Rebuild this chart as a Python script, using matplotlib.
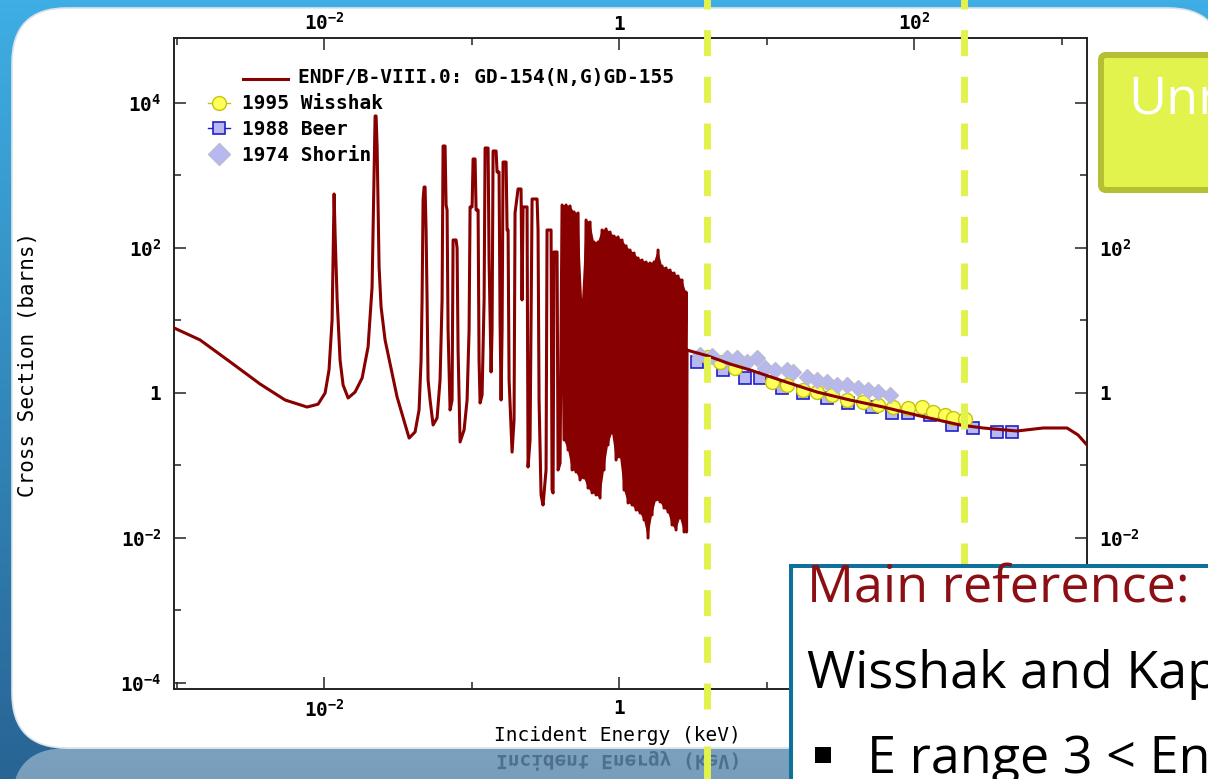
import numpy as np
import matplotlib
matplotlib.use('Agg')
import matplotlib.pyplot as plt
from matplotlib.patches import FancyBboxPatch, Rectangle, PathPatch
from matplotlib.textpath import TextPath
from matplotlib.font_manager import FontProperties
from matplotlib.transforms import Affine2D
from matplotlib.ticker import NullFormatter, NullLocator

plt.rcParams['font.family'] = ['DejaVu Sans Mono', 'DejaVu Sans']
plt.rcParams['font.weight'] = 'bold'
plt.rcParams['mathtext.fontset'] = 'custom'
plt.rcParams['mathtext.rm'] = 'DejaVu Sans Mono:bold'
plt.rcParams['mathtext.it'] = 'DejaVu Sans Mono:bold'
plt.rcParams['mathtext.bf'] = 'DejaVu Sans Mono:bold'
plt.rcParams['lines.scale_dashes'] = False

# ENDF/B-VIII.0 Gd-154(n,g), energies in keV, cross sections in barns
# thermal part and first two resonances
endf_E_low = [9.6e-4, 1.44e-3, 2.31e-3, 3.68e-3, 5.44e-3, 7.67e-3, 9.1e-3, 0.01016, 0.0108,
              0.01133, 0.01169, 0.01188, 0.01226, 0.01283, 0.01345, 0.01455, 0.01622, 0.01811,
              0.01987, 0.02115, 0.02149, 0.02217, 0.02252, 0.02288, 0.02360, 0.02434, 0.02591,
              0.03125, 0.03771]
endf_xs_low = [7.9, 5.4, 2.68, 1.33, 0.80, 0.64, 0.70, 1.0, 2.08,
               10.2, 556, 151, 19.2, 2.85, 1.29, 0.853, 1.03, 1.61,
               4.31, 29.0, 189, 6620, 6620, 2472, 54.7, 15.4, 5.38,
               0.881, 0.239]

# resolved resonances up to ~0.4 keV
endf_E_mid = [0.04139, 0.04405, 0.04546, 0.04617, 0.04690, 0.04764, 0.04838, 0.04914, 0.04992,
              0.05070, 0.05231, 0.05483, 0.05836, 0.06114, 0.06310, 0.06409, 0.06612, 0.06716,
              0.06822, 0.06929, 0.07149, 0.07375, 0.07491, 0.07851, 0.07975, 0.08100, 0.08356,
              0.08896, 0.09322, 0.09618, 0.09768, 0.1008, 0.1024, 0.1056, 0.1073, 0.1107,
              0.1124, 0.1142, 0.1178, 0.1216, 0.1235, 0.1294, 0.1314, 0.1356, 0.1377,
              0.1399, 0.1466, 0.1489, 0.1536, 0.1560, 0.1585, 0.1610, 0.1635, 0.1714,
              0.1741, 0.1768, 0.1796, 0.1882, 0.1941, 0.1971, 0.2066, 0.2165, 0.2199,
              0.2234, 0.2378, 0.2415, 0.2492, 0.2572, 0.2780, 0.2823, 0.2868, 0.2959,
              0.3052, 0.3199, 0.3249, 0.3459, 0.3514, 0.3569, 0.3625, 0.3799, 0.3859, 0.3981]
endf_xs_mid = [0.290, 0.583, 2.85, 19.2, 459, 694, 694, 177, 19.2,
               1.51, 0.80, 0.362, 0.452, 1.51, 19.2, 2553, 2553, 392,
               334, 7.39, 0.583, 0.80, 129, 129, 100, 3.92, 0.211,
               0.309, 0.80, 7.39, 368, 368, 1690, 1690, 334, 334,
               2.85, 0.728, 0.938, 19.2, 2395, 2395, 68.3, 1.95, 7.39,
               2178, 2178, 1117, 1117, 10.2, 0.80, 7.39, 1535, 1535,
               177, 177, 1.51, 0.153, 0.425, 304, 652, 652, 19.2,
               368, 368, 0.0953, 0.225, 474, 474, 177, 0.80, 0.0392,
               0.0285, 0.0867, 177, 177, 0.0459, 0.0418, 88.1, 88.1, 0.0867, 0.108]

# dense resonance band: tops and bottoms of the spikes
dense_E_peak = [0.4108, 0.4372, 0.4654, 0.4953, 0.5272, 0.5613, 0.5974, 0.6359, 0.6768, 0.7204,
                0.7668, 0.8163, 0.8689, 0.9250, 0.9845, 1.048, 1.116, 1.187, 1.264, 1.345,
                1.432, 1.524, 1.623, 1.727, 1.838, 1.956, 2.083, 2.217, 2.360, 2.512, 2.674, 2.846]
dense_xs_peak = [392, 392, 380, 314, 304, 19.2, 243, 228, 121, 121,
                 177, 183, 166, 146, 142, 129, 107, 93.8, 85.3, 72.8,
                 68.3, 64.1, 62.1, 64.1, 93.8, 56.5, 53.0, 49.7, 45.2, 41.1, 36.2, 24.7]
dense_E_valley = [0.4238, 0.4511, 0.4802, 0.5110, 0.5439, 0.5791, 0.6163, 0.6561, 0.6983, 0.7432,
                  0.7911, 0.8422, 0.8964, 0.9543, 1.0157, 1.081, 1.151, 1.225, 1.304, 1.388,
                  1.477, 1.572, 1.674, 1.782, 1.897, 2.018, 2.149, 2.287, 2.435, 2.592, 2.759, 2.868]
dense_xs_valley = [0.225, 0.1636, 0.0867, 0.0813, 0.0631, 0.0672, 0.0489, 0.0418, 0.0392, 0.0356,
                   0.0867, 0.1917, 0.2807, 0.119, 0.131, 0.0459, 0.0304, 0.0285, 0.0243, 0.0221,
                   0.0177, 0.0100, 0.0208, 0.0334, 0.0314, 0.0259, 0.0228, 0.0151, 0.0129, 0.0189,
                   0.0121, 0.0121]

# unresolved / fast region
endf_E_high = [2.89, 3.03, 4.01, 5.66, 7.73, 12.35, 22.0, 36.8, 61.7, 109.9, 205, 294, 499,
               750, 1090, 1294, 1489]
endf_xs_high = [3.92, 3.80, 3.24, 2.51, 2.08, 1.51, 1.03, 0.80, 0.641, 0.482, 0.362, 0.329,
                0.299, 0.329, 0.329, 0.264, 0.192]

# EXFOR measurements
wisshak_E = [4.01, 4.84, 6.11, 10.9, 13.8, 17.7, 22.0, 27.8, 35.1, 45.1, 57.0, 72.1, 91.0,
             113, 135, 162, 184, 222]
wisshak_xs = [3.14, 2.68, 2.21, 1.42, 1.29, 1.10, 1.03, 0.938, 0.80, 0.751, 0.683, 0.641,
              0.621, 0.641, 0.547, 0.497, 0.452, 0.438]
beer_E = [3.38, 5.07, 7.15, 9.03, 12.7, 17.7, 25.7, 35.7, 51.9, 70.9, 91.0, 128, 181, 251, 365, 462]
beer_xs = [2.68, 2.08, 1.61, 1.61, 1.17, 1.0, 0.853, 0.728, 0.641, 0.530, 0.530, 0.497,
           0.362, 0.329, 0.290, 0.290]
shorin_E = [3.54, 4.27, 5.40, 6.31, 7.38, 8.62, 9.77, 11.4, 13.8, 15.1, 18.8, 22.0, 25.7,
            30.1, 35.1, 41.7, 48.8, 57.0, 68.8]
shorin_xs = [3.34, 3.24, 3.04, 3.04, 2.68, 3.04, 2.21, 2.08, 2.08, 1.95, 1.66, 1.51, 1.42,
             1.29, 1.29, 1.17, 1.10, 1.03, 0.938]

# Wisshak energy window
region_edges = [3.95, 218]

x_major = [1e-2, 1, 1e2]
x_major_labels = ['$10^{-2}$', '1', '$10^{2}$']
x_minor = [1e-3, 1e-1, 10, 1e3]
y_major = [1e-4, 1e-2, 1, 1e2, 1e4]
y_major_labels = ['$10^{-4}$', '$10^{-2}$', '1', '$10^{2}$', '$10^{4}$']
y_minor = [1e-3, 1e-1, 10, 1e3]
y_right = [1e-2, 1, 1e2]
y_right_labels = ['$10^{-2}$', '1', '$10^{2}$']

dense_E = np.column_stack([dense_E_peak, dense_E_valley]).ravel()
dense_xs = np.column_stack([dense_xs_peak, dense_xs_valley]).ravel()
endf_E = np.concatenate([endf_E_low, endf_E_mid, dense_E, endf_E_high])
endf_xs = np.concatenate([endf_xs_low, endf_xs_mid, dense_xs, endf_xs_high])

W, H = 1208, 779
fig = plt.figure(figsize=(W / 100, H / 100), dpi=100)

# slide background
bg = fig.add_axes([0, 0, 1, 1], zorder=0)
bg.set_xlim(0, W)
bg.set_ylim(H, 0)
bg.axis('off')
top_c = np.array([62, 174, 228]) / 255
bot_c = np.array([40, 100, 148]) / 255
g = np.linspace(0, 1, 256)[:, None, None]
bg.imshow(top_c + g * (bot_c - top_c), extent=(0, W, H, 0), aspect='auto', zorder=0)
bg.add_patch(FancyBboxPatch((12, 8), 1211, 740, boxstyle='round,pad=0,rounding_size=55',
                            fc='white', ec='#dde4e9', lw=1.2, zorder=1))
bg.add_patch(FancyBboxPatch((12, 748), 1211, 740, boxstyle='round,pad=0,rounding_size=55',
                            fc='white', ec='none', alpha=0.38, zorder=1))

# chart
ax = fig.add_axes([174 / W, 1 - 689 / H, 913 / W, 651 / H], zorder=2)
ax.set_facecolor('none')
ax.set_xscale('log')
ax.set_yscale('log')

red = '#880000'
ax.plot(beer_E, beer_xs, 's', ms=9, mfc='#b8b8f4', mec='#2020c8', mew=1.2, zorder=3)
ax.plot(wisshak_E, wisshak_xs, 'o', ms=10, mfc='#ffff5a', mec='#c4c40c', mew=1, zorder=4)
ax.plot(shorin_E, shorin_xs, 'D', ms=8.5, mfc='#b8b8f0', mec='#bcbcd0', mew=1, zorder=5)
ax.fill(np.concatenate([dense_E_peak, dense_E_valley[::-1]]),
        np.concatenate([dense_xs_peak, dense_xs_valley[::-1]]), color=red, lw=0, zorder=6)
ax.plot(endf_E, endf_xs, color=red, lw=2.2, zorder=6)

for e in region_edges:
    ax.axvline(e, ymin=-0.0304, ymax=1.06, color='#e2f24c', lw=5,
               ls=(0, (18.7, 14.9)), clip_on=False, zorder=7)

ax.set_xticks(x_major, x_major_labels)
ax.set_xticks(x_minor, minor=True)
ax.set_yticks(y_major, y_major_labels)
ax.set_yticks(y_minor, minor=True)
ax.xaxis.set_minor_formatter(NullFormatter())
ax.yaxis.set_minor_formatter(NullFormatter())
ax.set_xlim(9.6e-4, 1489)
ax.set_ylim(8.26e-5, 7.88e4)
ax.tick_params(which='both', direction='in', top=True, right=True, labeltop=False,
               labelright=False, width=1.1, color='#222222', labelsize=14)
ax.tick_params(which='major', length=8.6)
ax.tick_params(which='minor', length=5)
ax.tick_params(axis='x', which='major', pad=7)
ax.tick_params(axis='y', which='major', pad=9)
for s in ax.spines.values():
    s.set_linewidth(1.4)
    s.set_color('#222222')

# labels on the top and right edges
secx = ax.secondary_xaxis('top')
secx.set_xticks(x_major, x_major_labels)
secx.xaxis.set_minor_locator(NullLocator())
secx.tick_params(length=0, pad=3, labelsize=14)
secx.spines['top'].set_visible(False)
secy = ax.secondary_yaxis('right')
secy.set_yticks(y_right, y_right_labels)
secy.yaxis.set_minor_locator(NullLocator())
secy.tick_params(length=0, pad=8.6, labelsize=14)
secy.spines['right'].set_visible(False)

ax.set_xlabel('Incident Energy (keV)', fontsize=14)
ax.xaxis.set_label_coords(0.486, -0.0568)
ax.set_ylabel('Cross Section (barns)', fontsize=15)
ax.yaxis.set_label_coords(-0.149, 0.498)

# overlay: legend, slide boxes and text
deco = fig.add_axes([0, 0, 1, 1], zorder=3)
deco.set_xlim(0, W)
deco.set_ylim(H, 0)
deco.axis('off')

leg = dict(fontsize=14, fontweight='bold', color='black', va='baseline')
deco.plot([243, 288], [79, 79], color=red, lw=2.2)
deco.text(298, 83, 'ENDF/B-VIII.0: GD-154(N,G)GD-155', **leg)
deco.plot([208, 230], [103, 103], color='#c4c40c', lw=1)
deco.plot(219, 103, 'o', ms=10, mfc='#ffff5a', mec='#c4c40c', mew=1)
deco.text(242, 109, '1995 Wisshak', **leg)
deco.plot([208, 230], [128, 128], color='#2020c8', lw=1)
deco.plot(219, 128, 's', ms=9, mfc='#b8b8f4', mec='#2020c8', mew=1.2)
deco.text(242, 135, '1988 Beer', **leg)
deco.plot(219, 154, 'D', ms=11, mfc='#b8b8f0', mec='#bcbcd0', mew=1)
deco.text(242, 161, '1974 Shorin', **leg)

# reflection strip under the slide
xl = ax.transData.transform((region_edges[0], 1))[0]
fp = FontProperties(family='DejaVu Sans Mono', weight='bold')
tp = TextPath((0, 0), 'Incident Energy (keV)', size=19.4, prop=fp)
ext = tp.get_extents()
cx = 174 + 0.486 * 913
deco.add_patch(PathPatch(tp, transform=Affine2D().translate(cx - (ext.x0 + ext.x1) / 2, 755) + deco.transData,
                         fc='#3c5c7c', ec='none', alpha=0.7))
deco.plot([xl, xl], [746, 779], color='#e2f24c', lw=5, solid_capstyle='butt')

slide = dict(fontfamily='Open Sans', fontweight='normal', fontsize=37.5, va='baseline')
deco.add_patch(FancyBboxPatch((1101, 55), 200, 135, boxstyle='round,pad=0,rounding_size=5',
                              fc='#e2f34d', ec='#b4bf33', lw=4.3))
deco.text(1128, 113, 'Unresolved', color='white', **slide)

deco.add_patch(Rectangle((791, 566), 600, 300, fc='white', ec='#10709c', lw=2.9))
deco.text(807, 602, 'Main reference:', color='#8b0f14', **slide)
deco.text(807, 688, 'Wisshak and Kappeler', color='black', **slide)
deco.add_patch(Rectangle((815, 747), 16, 16, fc='black', ec='none'))
deco.text(867, 773, 'E range 3 < En < 225 keV', color='black', **slide)

fig.savefig('out.png', dpi=100)
